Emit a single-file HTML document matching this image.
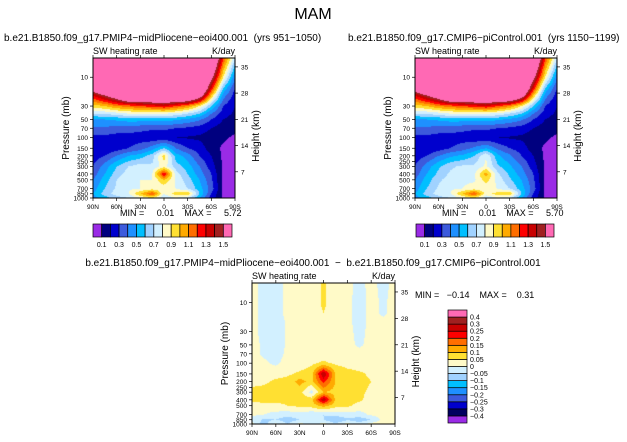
<!DOCTYPE html>
<html><head><meta charset="utf-8"><style>
body{margin:0;background:#fff;width:627px;height:442px;overflow:hidden;position:relative;font-family:"Liberation Sans",sans-serif}
canvas{position:absolute}
svg{position:absolute;left:0;top:0}
text{white-space:pre}
</style></head><body>
<canvas id="c1" width="142" height="140" style="left:93px;top:58px"></canvas>
<canvas id="c2" width="142" height="140" style="left:415px;top:58px"></canvas>
<canvas id="c3" width="143" height="141" style="left:252px;top:283px"></canvas>
<svg id="s" width="627" height="442"></svg>
<script>
const lats=[90,75,60,45,30,15,0,-15,-30,-45,-60,-75,-90];
const plevs=[5,10,15,20,30,40,50,70,100,150,200,300,400,500,700,850,1000];
const fieldA=[
[2,2,2,2,2,2,2,2,2,2,2,1.2,0.7],
[2,2,2,2,2,2,2,2,2,2,1.6,0.9,0.4],
[1.7,2,2,2,2,2,2,2,2,2,1.3,0.6,0.3],
[1.3,1.5,1.7,2,2,2,2,2,2,1.7,1.0,0.45,0.25],
[0.95,1.0,1.1,1.15,1.2,1.25,1.3,1.2,1.1,0.9,0.6,0.3,0.2],
[0.7,0.72,0.75,0.8,0.8,0.8,0.8,0.78,0.7,0.6,0.4,0.25,0.18],
[0.48,0.5,0.52,0.55,0.55,0.55,0.55,0.52,0.48,0.42,0.3,0.2,0.15],
[0.38,0.38,0.36,0.35,0.33,0.32,0.32,0.3,0.28,0.25,0.2,0.15,0.13],
[0.27,0.27,0.25,0.25,0.25,0.22,0.22,0.2,0.19,0.18,0.15,0.12,0.08],
[0.2,0.2,0.25,0.3,0.35,0.45,0.6,0.4,0.3,0.25,0.15,0.08,0.04],
[0.25,0.3,0.4,0.5,0.55,0.65,0.95,0.55,0.45,0.3,0.2,0.08,0.04],
[0.3,0.45,0.6,0.7,0.75,0.72,0.85,0.65,0.55,0.4,0.25,0.08,0.04],
[0.35,0.5,0.65,0.75,0.78,0.8,1.3,0.75,0.6,0.45,0.3,0.08,0.04],
[0.4,0.55,0.7,0.78,0.8,0.8,1.0,0.78,0.65,0.5,0.32,0.08,0.04],
[0.45,0.6,0.72,0.78,0.8,0.85,0.82,0.8,0.7,0.55,0.35,0.08,0.04],
[0.5,0.65,0.75,0.8,1.0,1.2,0.8,0.95,1.0,0.6,0.3,0.08,0.04],
[0.45,0.55,0.65,0.7,0.8,0.9,0.7,0.8,0.7,0.5,0.25,0.08,0.04]];
const fieldB=[
[2,2,2,2,2,2,2,2,2,2,2,1.2,0.7],
[2,2,2,2,2,2,2,2,2,2,1.6,0.9,0.4],
[1.7,2,2,2,2,2,2,2,2,2,1.3,0.6,0.3],
[1.3,1.5,1.7,2,2,2,2,2,2,1.7,1.0,0.45,0.25],
[0.95,1.0,1.1,1.15,1.2,1.25,1.3,1.2,1.1,0.9,0.6,0.3,0.2],
[0.7,0.72,0.75,0.8,0.8,0.8,0.8,0.78,0.7,0.6,0.4,0.25,0.18],
[0.48,0.5,0.52,0.55,0.55,0.55,0.55,0.52,0.48,0.42,0.3,0.2,0.15],
[0.38,0.38,0.36,0.35,0.33,0.32,0.32,0.3,0.28,0.25,0.2,0.15,0.13],
[0.27,0.27,0.25,0.25,0.25,0.22,0.22,0.2,0.19,0.18,0.15,0.12,0.08],
[0.2,0.2,0.25,0.3,0.35,0.42,0.5,0.38,0.3,0.25,0.15,0.08,0.04],
[0.25,0.3,0.4,0.48,0.52,0.6,0.8,0.52,0.42,0.3,0.2,0.08,0.04],
[0.3,0.45,0.58,0.68,0.72,0.72,0.82,0.62,0.52,0.4,0.25,0.08,0.04],
[0.35,0.5,0.63,0.72,0.75,0.78,1.05,0.72,0.58,0.45,0.3,0.08,0.04],
[0.4,0.55,0.68,0.75,0.78,0.78,0.95,0.76,0.62,0.5,0.32,0.08,0.04],
[0.45,0.6,0.72,0.78,0.8,0.85,0.82,0.8,0.7,0.55,0.35,0.08,0.04],
[0.5,0.65,0.75,0.8,1.0,1.2,0.85,0.95,1.0,0.6,0.3,0.08,0.04],
[0.45,0.55,0.65,0.7,0.8,0.9,0.7,0.8,0.7,0.5,0.25,0.08,0.04]];
const fieldD=[
[0.02,-0.02,-0.03,0.02,0.02,0.02,0.06,0.02,0.02,-0.02,0.02,-0.02,0.02],
[0.02,-0.02,-0.03,0.02,0.02,0.02,0.06,0.02,0.02,-0.03,0.02,-0.01,0.02],
[0.02,-0.02,-0.03,0.02,0.02,0.02,0.05,0.02,0.02,-0.03,0.02,-0.01,0.02],
[0.02,-0.02,-0.03,0.01,0.02,0.02,0.04,0.02,0.02,-0.03,0.02,0.01,0.02],
[0.02,-0.02,-0.03,0.01,0.02,0.02,0.03,0.02,0.02,-0.02,0.02,0.02,0.02],
[0.02,-0.015,-0.03,0.01,0.02,0.02,0.02,0.02,0.02,-0.015,0.02,0.02,0.02],
[0.02,-0.01,-0.03,0.01,0.02,0.02,0.02,0.02,0.02,-0.01,0.02,0.02,0.02],
[0.02,-0.01,-0.02,0.01,0.02,0.02,0.02,0.02,0.02,0.02,0.02,0.02,0.02],
[0.02,0.01,-0.01,0.02,0.02,0.04,0.06,0.04,0.03,0.02,0.02,0.02,0.02],
[0.02,0.02,0.03,0.04,0.06,0.08,0.3,0.1,0.07,0.06,0.04,0.02,0.02],
[0.03,0.04,0.06,0.07,0.12,0.08,0.22,0.1,0.08,0.07,0.05,0.02,0.02],
[0.07,0.07,0.07,0.07,0.07,-0.02,0.1,0.08,0.07,0.06,0.04,0.02,0.02],
[0.07,0.07,0.06,0.06,0.07,0.08,0.3,0.09,0.07,0.06,0.03,0.02,0.02],
[0.02,0.03,0.04,0.05,0.06,0.07,0.12,0.07,0.06,0.03,0.02,0.02,0.02],
[0.01,0.0,-0.02,-0.03,-0.02,-0.04,-0.05,-0.03,-0.02,-0.02,0.01,0.02,0.02],
[-0.02,-0.06,-0.05,-0.08,-0.05,-0.04,-0.05,-0.1,-0.06,-0.08,-0.05,0.02,0.02],
[0.02,-0.08,0.01,-0.05,0.02,-0.03,0.02,-0.04,0.02,-0.03,0.02,0.02,0.02]];
const levA=[0.1,0.2,0.3,0.4,0.5,0.6,0.7,0.8,0.9,1.0,1.1,1.2,1.3,1.4,1.5];
const levAlabels=["0.1","0.3","0.5","0.7","0.9","1.1","1.3","1.5"];
const levD=[-0.4,-0.3,-0.25,-0.2,-0.15,-0.1,-0.05,0,0.05,0.1,0.15,0.2,0.25,0.3,0.4];
const levDlabels=["-0.4","-0.3","-0.25","-0.2","-0.15","-0.1","-0.05","0","0.05","0.1","0.15","0.2","0.25","0.3","0.4"];
const colsA=["#9a2be6","#00007f","#0000cd","#3c5adc","#1e90ff","#00bfff","#a0d2ff","#d2f0ff","#fffac8","#ffe032","#ffaa00","#ff6e00","#ff0000","#c80000","#a02020","#ff69b4"];
const colsD=["#9a2be6","#000060","#0000cd","#3c5adc","#1e90ff","#00bfff","#a0d2ff","#d2f0ff","#fffac8","#ffe032","#ffaa00","#ff6e00","#ff0000","#c80000","#a02020","#ff69b4"];
const pTicks=[10,30,50,70,100,150,200,250,300,400,500,700,850,1000];
const zTicks=[35,28,21,14,7];
const latTicks=["90N","60N","30N","0","30S","60S","90S"];
const PTOP=4.8,PBOT=1000;

function yOf(p,h){return (Math.log(p)-Math.log(PTOP))/(Math.log(PBOT)-Math.log(PTOP))*h;}
function interp(f,lat,lp){
  let i=0;while(i<lats.length-2&&lat<lats[i+1])i++;
  let tx=(lats[i]-lat)/(lats[i]-lats[i+1]);
  const lps=plevs.map(Math.log);
  let j=0;if(lp<lps[0])lp=lps[0];while(j<lps.length-2&&lp>lps[j+1])j++;
  let ty=(lp-lps[j])/(lps[j+1]-lps[j]);ty=Math.max(0,Math.min(1,ty));
  const a=f[j][i]*(1-tx)+f[j][i+1]*tx,b=f[j+1][i]*(1-tx)+f[j+1][i+1]*tx;
  return a*(1-ty)+b*ty;
}
function draw(id,f,lev,cols){
  const c=document.getElementById(id),ctx=c.getContext('2d'),w=c.width,h=c.height;
  for(let y=0;y<h;y++){
    const lp=Math.log(PTOP)+(y+0.5)/h*(Math.log(PBOT)-Math.log(PTOP));
    for(let x=0;x<w;x++){
      const lat=90-180*(x+0.5)/w;const v=interp(f,lat,lp);
      let k=0;while(k<lev.length&&v>=lev[k])k++;
      ctx.fillStyle=cols[k];ctx.fillRect(x,y,1,1);
    }
  }
}
draw('c1',fieldA,levA,colsA);draw('c2',fieldB,levA,colsA);draw('c3',fieldD,levD,colsD);

const S=document.getElementById('s');const NS="http://www.w3.org/2000/svg";
function el(t,a,txt){const e=document.createElementNS(NS,t);for(const k in a)e.setAttribute(k,a[k]);if(txt!=null)e.textContent=txt;S.appendChild(e);return e;}
function txt(x,y,s,size,anchor,name,rot){const e=el('text',{x:x,y:y,'font-size':size,'text-anchor':anchor||'start',fill:'#000'},s);
  if(rot)e.setAttribute('transform','rotate(-90 '+x+' '+y+')');
  
  return e;}
el('text',{x:313,y:19,'font-size':16,'text-anchor':'middle'},'MAM');

function panel(x0,y0,w,h,title,tx,tAnchor,pre){
  txt(tx,y0-17,title,10,tAnchor,pre+'-title');
  txt(x0,y0-4,'SW heating rate',9,'start',pre+'-variable-label');
  txt(x0+w,y0-4,'K/day',9,'end',pre+'-units-label');
  const r=el('rect',{x:x0,y:y0,width:w,height:h,fill:'none',stroke:'#000','stroke-width':1});
  
  pTicks.forEach(p=>{const y=y0+yOf(p,h);
    el('line',{x1:x0-3,x2:x0,y1:y,y2:y,stroke:'#000','stroke-width':0.7});
    txt(x0-5,y+2.5,String(p),6.5,'end',pre+'-y-tick-'+p);});
  zTicks.forEach(z=>{const p=1000*Math.exp(-z/7);const y=y0+yOf(p,h);
    el('line',{x1:x0+w,x2:x0+w+3,y1:y,y2:y,stroke:'#000','stroke-width':0.7});
    txt(x0+w+6,y+2.5,String(z),6.5,'start',pre+'-z-tick-'+z);});
  latTicks.forEach((l,i)=>{const x=x0+i*w/6;
    el('line',{x1:x,x2:x,y1:y0+h,y2:y0+h+3,stroke:'#000','stroke-width':0.7});
    el('line',{x1:x,x2:x,y1:y0,y2:y0-3,stroke:'#000','stroke-width':0.7});
    txt(x,y0+h+11,l,6.5,'middle',pre+'-x-tick-'+l);});
  txt(x0-24,y0+h/2,'Pressure (mb)',10,'middle',pre+'-y-axis-title',true);
  txt(x0+w+24,y0+h/2+8,'Height (km)',10,'middle',pre+'-z-axis-title',true);
}
panel(93,58,142,140,'b.e21.B1850.f09_g17.PMIP4\u2212midPliocene\u2212eoi400.001  (yrs 951\u22121050)',4,'start','left');
panel(415,58,142,140,'b.e21.B1850.f09_g17.CMIP6\u2212piControl.001  (yrs 1150\u22121199)',348,'start','right');
panel(252,283,143,141,'b.e21.B1850.f09_g17.PMIP4\u2212midPliocene\u2212eoi400.001  \u2212  b.e21.B1850.f09_g17.CMIP6\u2212piControl.001',313,'middle','diff');
txt(120,216,'MIN =     0.01    MAX =     5.72',9,'start','left-min-max');
txt(442,216,'MIN =     0.01    MAX =     5.70',9,'start','right-min-max');
txt(415,298,'MIN =   \u22120.14    MAX =    0.31',9,'start','diff-min-max');

function hbar(x0,y0,w,h,pre){
  const bw=w/colsA.length;
  colsA.forEach((c,i)=>{const r=el('rect',{x:x0+i*bw,y:y0,width:bw,height:h,fill:c,stroke:'#000','stroke-width':0.7});
    });
  levA.forEach((v,i)=>{if(i%2===0)txt(x0+(i+1)*bw,y0+h+10,levAlabels[i/2],7,'middle',pre+'-colorbar-label');});
}
hbar(93,224,139,13,'left');hbar(416,224,138,13,'right');
(function(){const x0=448,y0=310,w=19,h=113,bh=h/colsD.length;
  colsD.forEach((c,i)=>{const r=el('rect',{x:x0,y:y0+h-(i+1)*bh,width:w,height:bh,fill:c,stroke:'#000','stroke-width':0.7});
    });
  levD.forEach((v,i)=>{txt(x0+w+3,y0+h-(i+1)*bh+2.5,levDlabels[i].replace('-','\u2212'),7,'start','diff-colorbar-label');});
})();
</script>
</body></html>
